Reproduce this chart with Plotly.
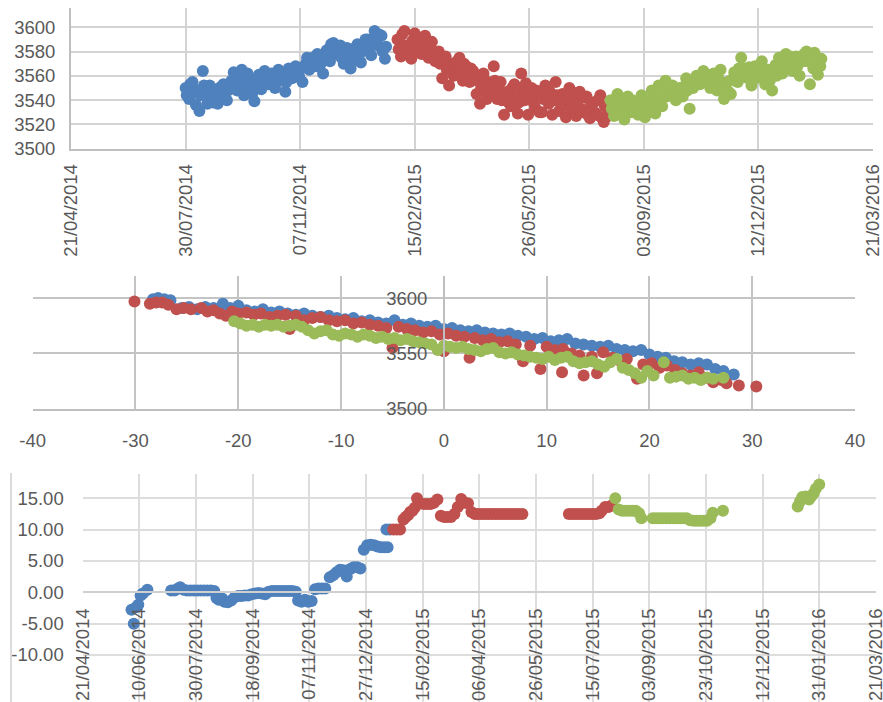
import plotly.graph_objects as go
import pandas as pd

# ---------------- data: top chart ----------------
# two readings per 3-day slot (slot day and the day after)
top_blue_start = "2014-07-30"
top_blue = [3550, 3541, 3555, 3536, 3531, 3564, 3545, 3552, 3538, 3549,
            3543, 3553, 3540, 3550, 3563, 3548, 3560, 3544, 3562, 3551,
            3539, 3558, 3549, 3564, 3553, 3562, 3550, 3565, 3556, 3547,
            3566, 3558, 3568, 3560, 3555, 3570, 3565, 3575, 3568, 3576,
            3562, 3581, 3572, 3587, 3578, 3585, 3570, 3583, 3566, 3578,
            3586, 3571, 3583, 3590, 3577, 3597, 3585, 3593, 3574]
top_blue_b = [3544, 3553, 3546, 3548, 3544, 3552, 3537, 3541, 3547, 3537,
              3551, 3546, 3548, 3556, 3552, 3556, 3565, 3553, 3555, 3545,
              3556, 3561, 3556, 3557, 3560, 3555, 3558, 3559, 3562, 3555,
              3560, 3564, 3563, 3566, 3567, 3575, 3572, 3569, 3578, 3570,
              3574, 3576, 3586, 3579, 3582, 3575, 3578, 3574, 3572, 3583,
              3576, 3580, 3590, 3582, 3588, 3591, 3594, 3580, 3584]
top_red_start = "2015-01-31"
top_red = [3590, 3576, 3597, 3583, 3574, 3595, 3586, 3578, 3593, 3575,
           3588, 3572, 3580, 3558, 3576, 3552, 3570, 3561, 3575, 3556,
           3568, 3555, 3564, 3545, 3537, 3562, 3541, 3550, 3568, 3541,
           3555, 3528, 3547, 3535, 3553, 3529, 3562, 3540, 3528, 3550,
           3534, 3545, 3530, 3552, 3537, 3528, 3555, 3531, 3545, 3526,
           3550, 3536, 3527, 3547, 3532, 3543, 3525, 3538, 3528, 3544,
           3522, 3534]
top_red_b = [3582, 3594, 3585, 3578, 3589, 3580, 3590, 3584, 3581, 3587,
             3580, 3578, 3570, 3574, 3565, 3568, 3560, 3572, 3565, 3570,
             3560, 3566, 3557, 3556, 3550, 3548, 3555, 3545, 3556, 3549,
             3540, 3545, 3538, 3550, 3542, 3538, 3548, 3554, 3545, 3539,
             3548, 3530, 3541, 3544, 3547, 3540, 3544, 3538, 3536, 3541,
             3533, 3546, 3539, 3530, 3542, 3528, 3536, 3530, 3540, 3526,
             3535, 3527]
top_green_start = "2015-08-05"
top_green = [3540, 3527, 3545, 3532, 3524, 3543, 3530, 3538, 3528, 3544,
             3526, 3540, 3548, 3529, 3552, 3535, 3556, 3545, 3552, 3540,
             3550, 3543, 3558, 3533, 3550, 3560, 3553, 3564, 3556, 3550,
             3562, 3548, 3565, 3541, 3555, 3545, 3563, 3555, 3575, 3566,
             3558, 3552, 3568, 3560, 3572, 3553, 3565, 3548, 3569, 3575,
             3562, 3578, 3570, 3564, 3576, 3560, 3572, 3580, 3553, 3566,
             3575, 3568]
top_green_b = [3533, 3538, 3535, 3541, 3534, 3536, 3540, 3531, 3536, 3533,
               3537, 3531, 3536, 3542, 3538, 3546, 3543, 3550, 3546, 3548,
               3544, 3551, 3548, 3552, 3556, 3553, 3558, 3557, 3561, 3559,
               3555, 3558, 3554, 3550, 3547, 3557, 3556, 3566, 3563, 3559,
               3567, 3562, 3558, 3566, 3563, 3560, 3556, 3562, 3560, 3565,
               3570, 3568, 3576, 3572, 3568, 3574, 3578, 3572, 3577, 3579,
               3561, 3574]
date_range = ["2014-04-21", "2016-03-21"]

# ---------------- data: middle chart ----------------
mid_blue_x = [-28.3, -27.8, -27.2, -26.6, -25.5, -24.8, -24.0, -23.2, -22.4, -21.5,
              -20.8, -20.0, -19.2, -18.4, -17.6, -16.8, -16.0, -15.2, -14.4, -13.6,
              -12.8, -12.0, -11.2, -10.4, -9.6, -8.8, -8.0, -7.2, -6.4, -5.6,
              -4.8, -4.0, -3.2, -2.4, -1.6, -0.8, 0.0, 0.8, 1.6, 2.4,
              3.2, 4.0, 4.8, 5.6, 6.4, 7.2, 8.0, 8.8, 9.6, 10.4,
              11.2, 12.0, 12.8, 13.6, 14.4, 15.2, 16.0, 16.8, 17.6, 18.4,
              19.2, 20.0, 20.8, 21.6, 22.4, 23.2, 24.0, 24.8, 25.6, 26.4,
              27.2, 28.2]
mid_blue_y = [3599, 3600, 3599, 3598, 3591, 3592, 3590, 3592, 3591, 3595,
              3591, 3593, 3589, 3588, 3590, 3587, 3588, 3586, 3585, 3586,
              3584, 3583, 3584, 3582, 3581, 3582, 3579, 3580, 3578, 3577,
              3580, 3576, 3577, 3575, 3574, 3575, 3572, 3573, 3571, 3570,
              3571, 3569, 3568, 3567, 3568, 3566, 3565, 3563, 3564, 3561,
              3562, 3563, 3559, 3558, 3557, 3556, 3557, 3554, 3553, 3552,
              3553, 3549, 3547, 3546, 3543, 3542, 3540, 3541, 3540, 3536,
              3534, 3531]
mid_red_x = [-30.1, -28.6, -28.0, -27.4, -26.8, -26.0, -25.3, -24.6, -23.6, -23.0,
             -22.4, -21.8, -21.2, -20.6, -20.0, -19.2, -18.5, -17.8, -17.0, -16.2,
             -15.4, -15.0, -14.4, -13.6, -12.8, -12.0, -11.2, -10.4, -9.6, -8.8,
             -8.0, -7.2, -6.4, -5.6, -5.0, -4.4, -3.6, -2.8, -2.0, -1.2,
             -0.4, 0.0, 0.4, 1.2, 2.0, 2.5, 3.0, 3.8, 4.6, 5.4,
             6.2, 7.0, 7.7, 8.4, 9.4, 10.0, 10.8, 11.5, 11.6, 12.4,
             13.2, 13.6, 14.4, 14.9, 15.5, 16.4, 17.2, 17.8, 18.8, 19.4,
             20.2, 21.0, 21.7, 22.5, 23.2, 24.0, 24.8, 25.6, 26.2, 27.0,
             27.5, 28.7, 30.4]
mid_red_y = [3597, 3595, 3596, 3596, 3594, 3590, 3591, 3590, 3591, 3588,
             3589, 3586, 3584, 3588, 3586, 3587, 3585, 3586, 3583, 3584,
             3585, 3572, 3584, 3580, 3582, 3583, 3580, 3579, 3580, 3577,
             3578, 3576, 3575, 3573, 3555, 3574, 3572, 3571, 3569, 3570,
             3567, 3552, 3568, 3566, 3565, 3546, 3564, 3562, 3563, 3560,
             3561, 3558, 3543, 3557, 3536, 3556, 3553, 3533, 3554, 3550,
             3548, 3530, 3547, 3532, 3551, 3546, 3543, 3545, 3527, 3540,
             3541, 3537, 3539, 3535, 3532, 3530, 3533, 3528, 3524, 3526,
             3523, 3521, 3520]
mid_green_x = [-20.4, -19.8, -19.2, -18.6, -18.0, -17.4, -16.8, -16.2, -15.6, -15.0,
               -14.4, -13.8, -13.2, -12.6, -12.0, -11.4, -10.8, -10.2, -9.6, -9.0,
               -8.4, -7.8, -7.2, -6.6, -6.0, -5.4, -4.8, -4.2, -3.6, -3.0,
               -2.4, -1.8, -1.2, -0.6, 0.0, 0.6, 1.2, 1.8, 2.4, 3.0,
               3.6, 4.2, 4.8, 5.4, 6.0, 6.6, 7.2, 7.8, 8.4, 9.0,
               9.6, 10.2, 10.8, 11.4, 12.0, 12.6, 13.2, 13.8, 14.4, 15.0,
               15.6, 16.2, 16.8, 17.4, 18.0, 18.6, 19.2, 19.8, 20.4, 21.4,
               22.0, 22.6, 23.2, 23.8, 24.4, 25.0, 25.6, 26.2, 27.2]
mid_green_y = [3579, 3577, 3575, 3576, 3574, 3576, 3575, 3576, 3574, 3575,
               3576, 3574, 3571, 3568, 3570, 3571, 3567, 3566, 3568, 3567,
               3565, 3567, 3566, 3564, 3565, 3563, 3564, 3562, 3563, 3561,
               3560, 3559, 3558, 3553, 3557, 3556, 3555, 3556, 3554, 3553,
               3552, 3554, 3555, 3551, 3550, 3551, 3549, 3548, 3547, 3546,
               3545, 3547, 3544, 3546, 3547, 3543, 3541, 3542, 3543, 3540,
               3538, 3542, 3545, 3537, 3535, 3532, 3528, 3534, 3530, 3542,
               3528, 3529, 3530, 3527, 3528, 3526, 3528, 3527, 3528]
mid_x_ticks = [-40, -30, -20, -10, 0, 10, 20, 30, 40]
mid_x_labels = ["-40", "-30", "-20", "-10", "0", "10", "20", "30", "40"]
mid_y_ticks = [3500, 3550, 3600]

# ---------------- data: bottom chart ----------------
bot_blue_dates = ["2014-06-03", "2014-06-05", "2014-06-07", "2014-06-09", "2014-06-11",
                  "2014-06-13", "2014-06-17", "2014-07-08", "2014-07-11", "2014-07-14",
                  "2014-07-16", "2014-07-19", "2014-07-22", "2014-07-25", "2014-07-28",
                  "2014-07-31", "2014-08-03", "2014-08-06", "2014-08-09", "2014-08-12",
                  "2014-08-15", "2014-08-17", "2014-08-19", "2014-08-22", "2014-08-24",
                  "2014-08-27", "2014-08-30", "2014-09-02", "2014-09-05", "2014-09-08",
                  "2014-09-11", "2014-09-14", "2014-09-17", "2014-09-20", "2014-09-23",
                  "2014-09-26", "2014-09-29", "2014-10-02", "2014-10-05", "2014-10-08",
                  "2014-10-11", "2014-10-14", "2014-10-17", "2014-10-20", "2014-10-23",
                  "2014-10-26", "2014-10-28", "2014-10-31", "2014-11-03", "2014-11-06",
                  "2014-11-09", "2014-11-12", "2014-11-15", "2014-11-18", "2014-11-21",
                  "2014-11-25", "2014-11-28", "2014-12-01", "2014-12-04", "2014-12-07",
                  "2014-12-10", "2014-12-13", "2014-12-16", "2014-12-19", "2014-12-22",
                  "2014-12-25", "2014-12-28", "2014-12-31", "2015-01-03", "2015-01-06",
                  "2015-01-09", "2015-01-12", "2015-01-15", "2015-01-14", "2015-01-17"]
bot_blue = [-2.8, -5.0, -2.4, -2.0, -0.5,
            -0.2, 0.4, 0.3, 0.3, 0.6,
            0.8, 0.4, 0.3, 0.3, 0.3,
            0.3, 0.3, 0.3, 0.3, 0.3,
            0.2, -0.9, -1.2, -1.0, -1.5,
            -1.6, -1.3, -0.8, -0.6, -0.6,
            -0.5, -0.5, -0.3, -0.2, -0.1,
            -0.2, -0.3, 0.1, 0.2, 0.2,
            0.2, 0.2, 0.2, 0.2, 0.2,
            0.1, -1.3, -1.5, -1.2, -1.5,
            -1.4, 0.5, 0.6, 0.6, 0.6,
            2.4, 2.7, 3.2, 3.6, 3.5,
            2.5, 3.7, 4.0, 4.0, 3.8,
            6.8, 7.5, 7.6, 7.5, 7.3,
            7.2, 7.2, 7.2, 10.0, 10.0]
bot_red_dates = ["2015-01-20", "2015-01-23", "2015-01-26", "2015-01-29", "2015-01-31",
                 "2015-02-02", "2015-02-04", "2015-02-06", "2015-02-08", "2015-02-10",
                 "2015-02-13", "2015-02-16", "2015-02-19", "2015-02-22", "2015-02-25",
                 "2015-02-28", "2015-03-03", "2015-03-06", "2015-03-09", "2015-03-12",
                 "2015-03-15", "2015-03-18", "2015-03-21", "2015-03-24", "2015-03-27",
                 "2015-03-30", "2015-04-02", "2015-04-05", "2015-04-08", "2015-04-11",
                 "2015-04-14", "2015-04-17", "2015-04-20", "2015-04-23", "2015-04-26",
                 "2015-04-29", "2015-05-02", "2015-05-05", "2015-05-08", "2015-05-11",
                 "2015-05-14", "2015-06-24", "2015-06-27", "2015-06-30", "2015-07-03",
                 "2015-07-06", "2015-07-09", "2015-07-12", "2015-07-15", "2015-07-18",
                 "2015-07-21", "2015-07-23", "2015-07-26", "2015-07-29", "2015-08-01"]
bot_red = [10.0, 10.0, 10.0, 11.6, 12.0,
           12.3, 12.8, 13.0, 13.5, 15.0,
           14.2, 14.1, 14.1, 14.1, 14.3,
           14.8, 12.2, 12.0, 12.0, 12.0,
           12.5, 13.6, 14.9, 14.3, 14.2,
           12.8, 12.5, 12.5, 12.5, 12.5,
           12.5, 12.5, 12.5, 12.5, 12.5,
           12.5, 12.5, 12.5, 12.5, 12.5,
           12.5, 12.5, 12.5, 12.5, 12.5,
           12.5, 12.5, 12.5, 12.5, 12.5,
           12.6, 13.0, 13.6, 13.6, 13.9]
bot_green_dates = ["2015-08-04", "2015-08-07", "2015-08-10", "2015-08-13", "2015-08-16",
                   "2015-08-19", "2015-08-22", "2015-08-25", "2015-08-27", "2015-09-06",
                   "2015-09-09", "2015-09-12", "2015-09-15", "2015-09-18", "2015-09-21",
                   "2015-09-24", "2015-09-27", "2015-09-30", "2015-10-03", "2015-10-06",
                   "2015-10-09", "2015-10-12", "2015-10-15", "2015-10-18", "2015-10-21",
                   "2015-10-24", "2015-10-27", "2015-10-29", "2015-11-07", "2016-01-12",
                   "2016-01-14", "2016-01-16", "2016-01-19", "2016-01-22", "2016-01-24",
                   "2016-01-26", "2016-01-28", "2016-01-31"]
bot_green = [15.0, 13.2, 13.0, 13.0, 13.0,
             13.0, 13.0, 12.6, 11.8, 11.8,
             11.8, 11.8, 11.8, 11.8, 11.8,
             11.8, 11.8, 11.8, 11.8, 11.8,
             11.5, 11.4, 11.4, 11.4, 11.4,
             11.4, 11.8, 12.7, 13.0, 13.7,
             14.5, 15.2, 15.3, 14.8, 15.3,
             15.8, 16.5, 17.2]
bot_y_ticks = [-10, -5, 0, 5, 10, 15]
bot_y_labels = ["-10.00", "-5.00", "0.00", "5.00", "10.00", "15.00"]

# ---------------- styling ----------------
W, H = 883, 702
BLUE, RED, GREEN = "#4F81BD", "#C0504D", "#9BBB59"
FONT = dict(family="Liberation Sans, Arial, sans-serif", size=18.5, color="#595959")
DAY = 86400000
MS = 12
# small padding so the last date tick at the right edge is kept
axis_range = [pd.Timestamp(date_range[0]) - pd.Timedelta(hours=2),
              pd.Timestamp(date_range[1]) + pd.Timedelta(hours=2)]


def fx(px):
    return px / W


def fy(py):
    return 1 - py / H


def mk(color):
    return dict(color=color, size=MS, line=dict(width=0), opacity=1)


fig = go.Figure()

for start, a, b, col in [(top_blue_start, top_blue, top_blue_b, BLUE),
                         (top_red_start, top_red, top_red_b, RED),
                         (top_green_start, top_green, top_green_b, GREEN)]:
    d0 = pd.Timestamp(start)
    dates_a = pd.date_range(d0, periods=len(a), freq="3D")
    dates_b = pd.date_range(d0 + pd.Timedelta(days=1), periods=len(b), freq="3D")
    xs, ys = [], []
    for i in range(len(a)):
        xs.append(dates_a[i]); ys.append(a[i])
        if i < len(b):
            xs.append(dates_b[i]); ys.append(b[i])
    fig.add_trace(go.Scatter(x=xs, y=ys, mode="markers", marker=mk(col),
                             xaxis="x", yaxis="y", showlegend=False, hoverinfo="skip"))

for xs, ys, col in [(mid_blue_x, mid_blue_y, BLUE),
                    (mid_red_x, mid_red_y, RED),
                    (mid_green_x, mid_green_y, GREEN)]:
    fig.add_trace(go.Scatter(x=xs, y=ys, mode="markers", marker=mk(col),
                             xaxis="x2", yaxis="y2", showlegend=False, hoverinfo="skip"))

for xs, ys, col in [(bot_blue_dates, bot_blue, BLUE),
                    (bot_red_dates, bot_red, RED),
                    (bot_green_dates, bot_green, GREEN)]:
    fig.add_trace(go.Scatter(x=pd.to_datetime(xs), y=ys, mode="markers", marker=mk(col),
                             xaxis="x3", yaxis="y3", showlegend=False, hoverinfo="skip"))

GRID1 = "#D3D3D3"
GRID2 = "#C4C4C4"
GRID3 = "#DDDDDD"
common = dict(automargin=False, ticks="", zeroline=False, showgrid=True)

fig.update_layout(
    template="none",
    width=W, height=H,
    margin=dict(l=0, r=0, t=0, b=0, pad=0),
    paper_bgcolor="white", plot_bgcolor="white",
    font=FONT,
    showlegend=False,
    xaxis=dict(domain=[fx(71), fx(873)], anchor="y", type="date",
               range=axis_range, tick0=date_range[0], dtick=100 * DAY,
               tickformat="%d/%m/%Y", tickangle=-90, gridcolor=GRID1,
               gridwidth=2, showline=True, linecolor="#BFBFBF", linewidth=2,
               ticklabelstandoff=6, ticklabeloverflow="allow", **common),
    yaxis=dict(domain=[fy(148.7), fy(8)], anchor="x", range=[3500, 3615.9],
               tick0=3500, dtick=20, gridcolor=GRID1, gridwidth=2,
               showline=True, linecolor="#BFBFBF", linewidth=2,
               ticklabelstandoff=10, **common),
    xaxis2=dict(domain=[fx(32.7), fx(855)], anchor="y2", range=[-40, 40],
                tickvals=mid_x_ticks, ticktext=mid_x_labels,
                gridcolor=GRID2, gridwidth=2, showline=True, linecolor="#BFBFBF",
                linewidth=2, ticklabelstandoff=14, **common),
    yaxis2=dict(domain=[fy(408.7), fy(276)], anchor="free", position=fx(444),
                range=[3500, 3620], tickvals=mid_y_ticks,
                gridcolor=GRID2, gridwidth=2, showline=True, linecolor="#BFBFBF",
                linewidth=2, ticklabelstandoff=12, **common),
    xaxis3=dict(domain=[fx(82.7), fx(876)], anchor="free", position=fy(592.3),
                type="date", range=axis_range, tick0=date_range[0],
                dtick=50 * DAY, tickformat="%d/%m/%Y", tickangle=-90,
                gridcolor=GRID3, gridwidth=1.5, showline=True, linecolor="#CFCFCF",
                linewidth=1.5, ticklabelstandoff=8, ticklabeloverflow="allow",
                **common),
    yaxis3=dict(domain=[0, fy(474)], anchor="x3", range=[-17.5, 18.87],
                tickvals=bot_y_ticks, ticktext=bot_y_labels,
                gridcolor=GRID3, gridwidth=1.5, showline=False,
                ticklabelstandoff=18, **common),
    shapes=[dict(type="line", xref="paper", yref="paper", x0=fx(11), x1=fx(11),
                 y0=0, y1=fy(473), line=dict(color="#CFCFCF", width=1.5))],
)

fig.write_html("out.html", config={"displayModeBar": False},
               post_script="document.body.style.margin='0px';document.body.style.overflow='hidden';")
